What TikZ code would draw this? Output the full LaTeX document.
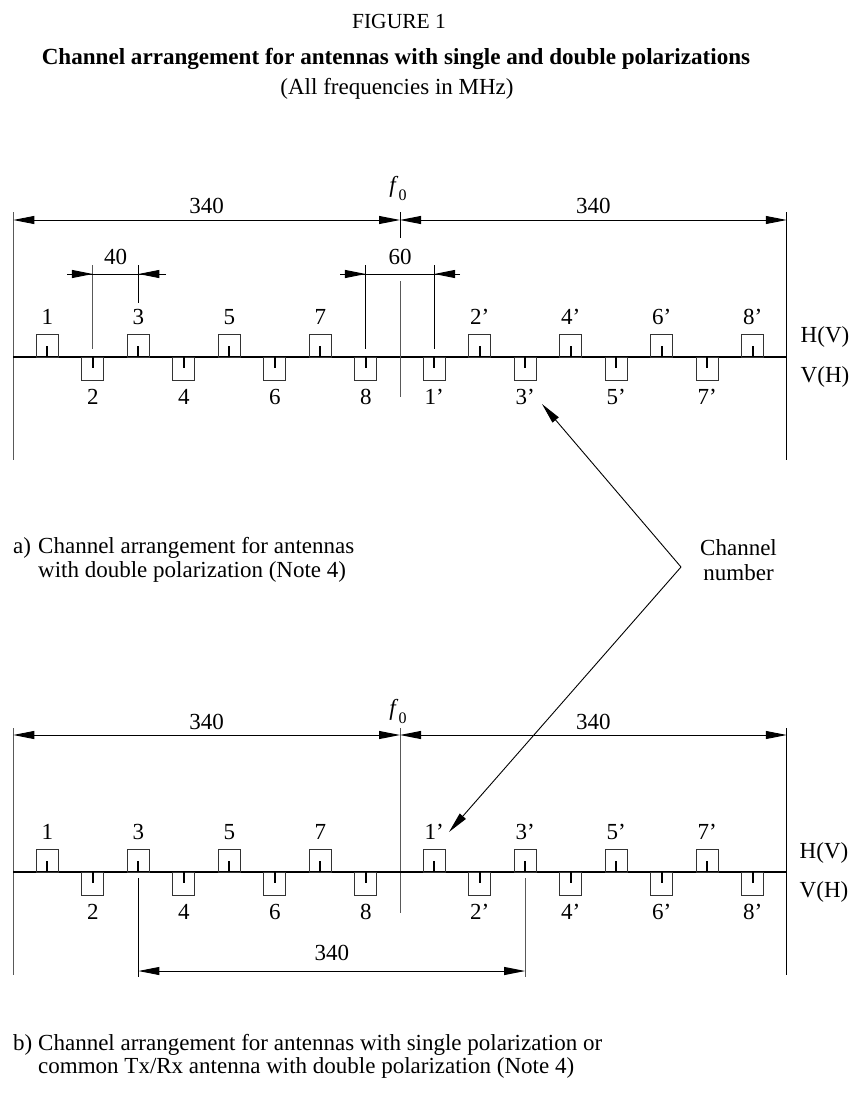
\documentclass[tikz,border=0pt]{standalone}
\usepackage{fontspec}
\setmainfont{Liberation Serif}
\usetikzlibrary{arrows.meta}
\newcommand\chanUp[4]{%
  \pgfmathsetmacro\cx{400+1.1375*(#2)}%
  \draw[boxl] (\cx-11,#1) rectangle (\cx+11,#1-23);
  \draw[tickl] (\cx,#1) -- (\cx,#1-11);
  \node[txt] (#4) at (\cx,#1-40) {#3};
}
\newcommand\chanDown[4]{%
  \pgfmathsetmacro\cx{400+1.1375*(#2)}%
  \draw[boxl] (\cx-11,#1) rectangle (\cx+11,#1+23);
  \draw[tickl] (\cx,#1) -- (\cx,#1+11);
  \node[txt] (#4) at (\cx,#1+40) {#3};
}
\newcommand\fzero{\textit{f}\raisebox{-8pt}{\fontsize{16}{16}\selectfont 0}}
\begin{document}
\begin{tikzpicture}[x=1pt,y=-1pt,
  txt/.style={font=\fontsize{23}{25}\selectfont, inner sep=0pt},
  captxt/.style={font=\fontsize{23}{25}\selectfont, inner sep=0pt},
  thinl/.style={line width=0.9pt},
  greyl/.style={line width=0.9pt, draw=black!65},
  basel/.style={line width=2pt},
  boxl/.style={line width=1pt, draw=black!80},
  tickl/.style={line width=2pt},
  dim/.style={line width=0.9pt, {Triangle[length=21pt,width=8pt]}-{Triangle[length=21pt,width=8pt]}},
  arr/.style={line width=0.9pt, -{Triangle[length=21pt,width=8pt]}},
]
\path[use as bounding box] (0,0) rectangle (853,1106);

% header
\node[inner sep=0pt, font=\fontsize{21.5}{23}\selectfont] (fig) at (399,21) {FIGURE 1};
\node[inner sep=0pt, font=\fontsize{23.1}{25}\selectfont\bfseries] (title) at (396,59) {Channel arrangement for antennas with single and double polarizations};
\node[captxt] (sub) at (397,89) {(All frequencies in MHz)};

% ---------------- (a) ----------------
\coordinate (aL) at (13.25,220);
\coordinate (aF) at (400,220);
\coordinate (aR) at (786.75,220);
\draw[greyl] (13.25,212) -- (13.25,460);
\draw[thinl] (786.75,212) -- (786.75,460);
\draw[dim] (aF) -- (aL);
\draw[dim] (aF) -- (aR);
\draw[thinl] (400,212) -- (400,238);
\node[txt] (af0) at (398,188) {\fzero};
\node[txt] (a340L) at (206.6,206) {340};
\node[txt] (a340R) at (593.4,206) {340};

\draw[basel] (13.25,357) -- (786.75,357);
\foreach \m/\lab/\nm in {-310/1/u1,-230/3/u3,-150/5/u5,-70/7/u7,70/2’/u2p,150/4’/u4p,230/6’/u6p,310/8’/u8p}
  {\chanUp{357}{\m}{\lab}{a\nm}}
\foreach \m/\lab/\nm in {-270/2/d2,-190/4/d4,-110/6/d6,-30/8/d8,30/1’/d1p,110/3’/d3p,190/5’/d5p,270/7’/d7p}
  {\chanDown{357}{\m}{\lab}{a\nm}}
\draw[greyl] (400,281) -- (400,397);

% 40 dimension
\coordinate (a40a) at (92.875,274);
\coordinate (a40b) at (138.375,274);
\coordinate (a40o1) at (67,274);
\coordinate (a40o2) at (166,274);
\draw[greyl] (92.875,265) -- (92.875,349);
\draw[thinl] (138.375,265) -- (138.375,303);
\draw[thinl] (a40o1) -- (a40o2);
\draw[arr] (a40o1) -- (a40a);
\draw[arr] (a40o2) -- (a40b);
\node[txt] (a40) at (115.6,257) {40};

% 60 dimension
\coordinate (a60a) at (365.875,274);
\coordinate (a60b) at (434.125,274);
\coordinate (a60o1) at (340,274);
\coordinate (a60o2) at (460,274);
\draw[thinl] (365.875,265) -- (365.875,349);
\draw[thinl] (434.125,265) -- (434.125,349);
\draw[thinl] (a60o1) -- (a60o2);
\draw[arr] (a60o1) -- (a60a);
\draw[arr] (a60o2) -- (a60b);
\node[txt] (a60) at (400,257) {60};

\node[txt] (aHV) at (825,337) {H(V)};
\node[txt] (aVH) at (825,377) {V(H)};

% captions a
\node[captxt, anchor=west] (capa1) at (13,548) {a)};
\node[captxt, anchor=west] (capa2) at (38,548) {Channel arrangement for antennas};
\node[captxt, anchor=west] (capa3) at (38,572) {with double polarization (Note 4)};

% channel number
\node[captxt, align=center, anchor=west] (chn) at (700,560) {Channel\\number};
\coordinate (vtx) at (681,567);
\coordinate (tipA) at (542,404);
\coordinate (tipB) at (449,832);
\draw[arr] (vtx) -- (tipA);
\draw[arr] (vtx) -- (tipB);

% ---------------- (b) ----------------
\coordinate (bL) at (13.25,735);
\coordinate (bF) at (400,735);
\coordinate (bR) at (786.75,735);
\draw[greyl] (13.25,728) -- (13.25,975);
\draw[thinl] (786.75,728) -- (786.75,975);
\draw[greyl] (400,728) -- (400,913);
\draw[dim] (bF) -- (bL);
\draw[dim] (bF) -- (bR);
\node[txt] (bf0) at (398,711) {\fzero};
\node[txt] (b340L) at (206.6,722) {340};
\node[txt] (b340R) at (593.4,722) {340};

\draw[basel] (13.25,872) -- (786.75,872);
\foreach \m/\lab/\nm in {-310/1/u1,-230/3/u3,-150/5/u5,-70/7/u7,30/1’/u1p,110/3’/u3p,190/5’/u5p,270/7’/u7p}
  {\chanUp{872}{\m}{\lab}{b\nm}}
\foreach \m/\lab/\nm in {-270/2/d2,-190/4/d4,-110/6/d6,-30/8/d8,70/2’/d2p,150/4’/d4p,230/6’/d6p,310/8’/d8p}
  {\chanDown{872}{\m}{\lab}{b\nm}}

\coordinate (b3) at (138.375,971);
\coordinate (b3p) at (525.125,971);
\draw[thinl] (138.375,878) -- (138.375,977);
\draw[greyl] (525.125,878) -- (525.125,977);
\draw[dim] (b3) -- (b3p);
\node[txt] (b340M) at (331.75,953) {340};

\node[txt] (bHV) at (824,853) {H(V)};
\node[txt] (bVH) at (824,892) {V(H)};

% captions b
\node[captxt, anchor=west] (capb1) at (13,1045) {b)};
\node[captxt, anchor=west] (capb2) at (38,1045) {Channel arrangement for antennas with single polarization or};
\node[captxt, anchor=west] (capb3) at (38,1068) {common Tx/Rx antenna with double polarization (Note 4)};
\end{tikzpicture}
\end{document}
